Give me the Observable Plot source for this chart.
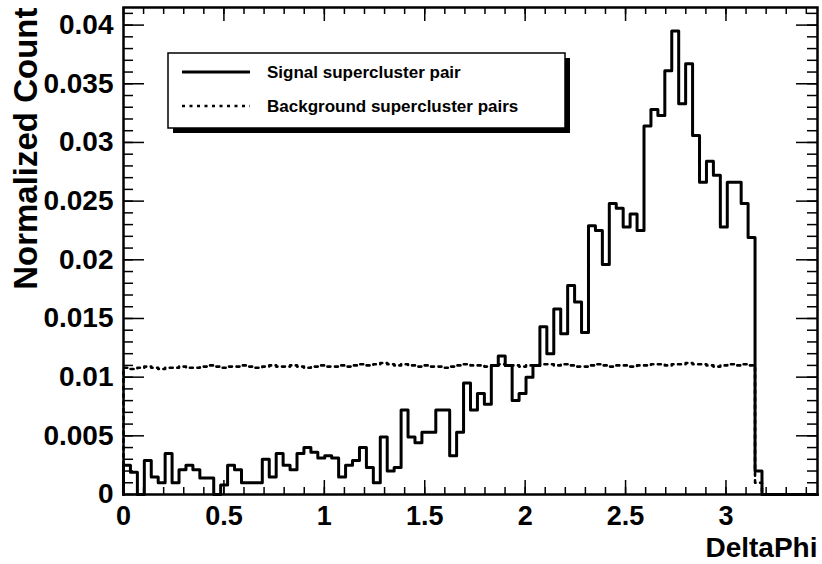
<!DOCTYPE html>
<html>
<head>
<meta charset="utf-8">
<script src="https://cdn.jsdelivr.net/npm/d3@7"></script>
<script src="https://cdn.jsdelivr.net/npm/@observablehq/plot@0.6"></script>
<style>
  body { margin: 0; background: #fff; }
  #chart { position: relative; width: 822px; height: 564px; }
</style>
</head>
<body>
<div id="chart"></div>
<script>
// Histogram range: 0 .. 1.1*pi in 100 equal bins
const xMax = 1.1 * Math.PI;
const nBins = 100;
const binWidth = xMax / nBins;

// Normalized counts per bin (bins 0..91, later bins are empty)
const signal = [
  0.0025, 0.0019, 0.0000, 0.0029, 0.0015, 0.0010, 0.0035, 0.0010, 0.0021, 0.0025,
  0.0021, 0.0014, 0.0014, 0.0000, 0.0008, 0.0025, 0.0021, 0.0010, 0.0010, 0.0010,
  0.0030, 0.0015, 0.0035, 0.0025, 0.0021, 0.0035, 0.0040, 0.0036, 0.0031, 0.0033,
  0.0031, 0.0015, 0.0025, 0.0029, 0.0040, 0.0023, 0.0010, 0.0049, 0.0020, 0.0023,
  0.0072, 0.0049, 0.0044, 0.0053, 0.0053, 0.0072, 0.0072, 0.0033, 0.0053, 0.0095,
  0.0072, 0.0086, 0.0077, 0.0110, 0.0118, 0.0110, 0.0080, 0.0086, 0.0100, 0.0110,
  0.0143, 0.0120, 0.0158, 0.0137, 0.0178, 0.0164, 0.0138, 0.0229, 0.0225, 0.0196,
  0.0248, 0.0244, 0.0228, 0.0239, 0.0225, 0.0314, 0.0328, 0.0323, 0.0361, 0.0395,
  0.0333, 0.0367, 0.0306, 0.0266, 0.0284, 0.0272, 0.0228, 0.0266, 0.0266, 0.0248,
  0.0219, 0.0020
];

const background = [
  0.0108, 0.0107, 0.0108, 0.0109, 0.0108, 0.0107, 0.0108, 0.0108, 0.0109, 0.0108,
  0.0108, 0.0109, 0.0110, 0.0109, 0.0108, 0.0109, 0.0109, 0.0110, 0.0109, 0.0108,
  0.0109, 0.0110, 0.0109, 0.0109, 0.0110, 0.0109, 0.0108, 0.0109, 0.0110, 0.0109,
  0.0109, 0.0110, 0.0109, 0.0110, 0.0111, 0.0110, 0.0111, 0.0112, 0.0111, 0.0110,
  0.0111, 0.0110, 0.0109, 0.0110, 0.0109, 0.0109, 0.0108, 0.0109, 0.0110, 0.0111,
  0.0110, 0.0110, 0.0109, 0.0110, 0.0111, 0.0110, 0.0110, 0.0109, 0.0110, 0.0110,
  0.0111, 0.0111, 0.0110, 0.0111, 0.0110, 0.0109, 0.0109, 0.0110, 0.0111, 0.0110,
  0.0109, 0.0110, 0.0110, 0.0109, 0.0110, 0.0110, 0.0111, 0.0111, 0.0110, 0.0111,
  0.0111, 0.0112, 0.0111, 0.0111, 0.0110, 0.0109, 0.0110, 0.0111, 0.0110, 0.0111,
  0.0110, 0.0010
];

const xMajorTicks = [0, 0.5, 1, 1.5, 2, 2.5, 3];
const xTickLabels = ["0", "0.5", "1", "1.5", "2", "2.5", "3"];
const yMajorTicks = [0, 0.005, 0.01, 0.015, 0.02, 0.025, 0.03, 0.035, 0.04];
const yTickLabels = ["0", "0.005", "0.01", "0.015", "0.02", "0.025", "0.03", "0.035", "0.04"];
const xTitle = "DeltaPhi";
const yTitle = "Normalized Count";
const seriesNames = ["Signal supercluster pair", "Background supercluster pairs"];

const yMax = 0.0415;
const xMinorTicks = d3.range(0, 3.45, 0.1).map(v => +v.toFixed(2));
const yMinorTicks = d3.range(0, 0.0415, 0.001).map(v => +v.toFixed(4));

// Turn bin contents into a step outline (left edge of each bin, then close to zero)
function outline(values) {
  const pts = [{x: 0, y: 0}];
  values.forEach((v, i) => pts.push({x: i * binWidth, y: v}));
  pts.push({x: values.length * binWidth, y: 0});
  pts.push({x: xMax, y: 0});
  return pts;
}

const W = 822, H = 564;
const mL = 123, mR = 5, mT = 7, mB = 70;
const frameW = W - mL - mR, frameH = H - mT - mB;
const font = "'Liberation Sans', Arial, Helvetica, sans-serif";
const dotted = "3,4.5";

const svg = Plot.plot({
  width: W, height: H,
  marginLeft: mL, marginRight: mR, marginTop: mT, marginBottom: mB,
  x: {domain: [0, xMax]},
  y: {domain: [0, yMax]},
  style: {fontFamily: font, background: "white", color: "black"},
  marks: [
    Plot.line(outline(background), {x: "x", y: "y", curve: "step-after",
      stroke: "black", strokeWidth: 2.6, strokeDasharray: dotted}),
    Plot.line(outline(signal), {x: "x", y: "y", curve: "step-after",
      stroke: "black", strokeWidth: 3}),
    // inward ticks on all four sides
    Plot.tickX(xMinorTicks, {insetTop: frameH - 7, stroke: "black", strokeWidth: 1.5}),
    Plot.tickX(xMajorTicks, {insetTop: frameH - 14, stroke: "black", strokeWidth: 1.5}),
    Plot.tickX(xMinorTicks, {insetBottom: frameH - 7, stroke: "black", strokeWidth: 1.5}),
    Plot.tickX(xMajorTicks, {insetBottom: frameH - 14, stroke: "black", strokeWidth: 1.5}),
    Plot.tickY(yMinorTicks, {insetRight: frameW - 10, stroke: "black", strokeWidth: 1.5}),
    Plot.tickY(yMajorTicks, {insetRight: frameW - 21, stroke: "black", strokeWidth: 1.5}),
    Plot.tickY(yMinorTicks, {insetLeft: frameW - 10, stroke: "black", strokeWidth: 1.5}),
    Plot.tickY(yMajorTicks, {insetLeft: frameW - 21, stroke: "black", strokeWidth: 1.5}),
    Plot.frame({stroke: "black", strokeWidth: 2.5}),
    Plot.axisX({ticks: xMajorTicks, tickSize: 0, tickPadding: 11, label: null,
      tickFormat: d => xTickLabels[xMajorTicks.indexOf(d)],
      fontSize: 27, fontWeight: "bold"}),
    Plot.axisY({ticks: yMajorTicks, tickSize: 0, tickPadding: 10, label: null,
      tickFormat: d => yTickLabels[yMajorTicks.indexOf(d)],
      fontSize: 28, fontWeight: "bold"}),
    Plot.text([yTitle], {frameAnchor: "top-left", rotate: -90, textAnchor: "end",
      dx: -110, fontSize: 33, fontWeight: "bold"}),
    Plot.text([xTitle], {frameAnchor: "bottom-right", textAnchor: "end", lineAnchor: "bottom",
      dy: 62, fontSize: 28, fontWeight: "bold"})
  ]
});

document.getElementById("chart").appendChild(svg);

// Legend box with drop shadow in the upper left of the frame
const g = d3.select(svg).append("g").attr("font-family", font).attr("text-anchor", "start");
g.append("rect").attr("x", 173).attr("y", 58).attr("width", 397).attr("height", 75).attr("fill", "black");
g.append("rect").attr("x", 168).attr("y", 53).attr("width", 397).attr("height", 75)
  .attr("fill", "white").attr("stroke", "black").attr("stroke-width", 1.5);
const rows = [
  {y: 72, dash: null, w: 3},
  {y: 106, dash: dotted, w: 2.6}
];
rows.forEach((r, i) => {
  g.append("line").attr("x1", 182).attr("x2", 250).attr("y1", r.y).attr("y2", r.y)
    .attr("stroke", "black").attr("stroke-width", r.w).attr("stroke-dasharray", r.dash);
  g.append("text").attr("x", 267).attr("y", r.y + 5.5).attr("font-size", 17)
    .attr("font-weight", "bold").attr("text-anchor", "start").attr("fill", "black")
    .text(seriesNames[i]);
});
</script>
</body>
</html>
